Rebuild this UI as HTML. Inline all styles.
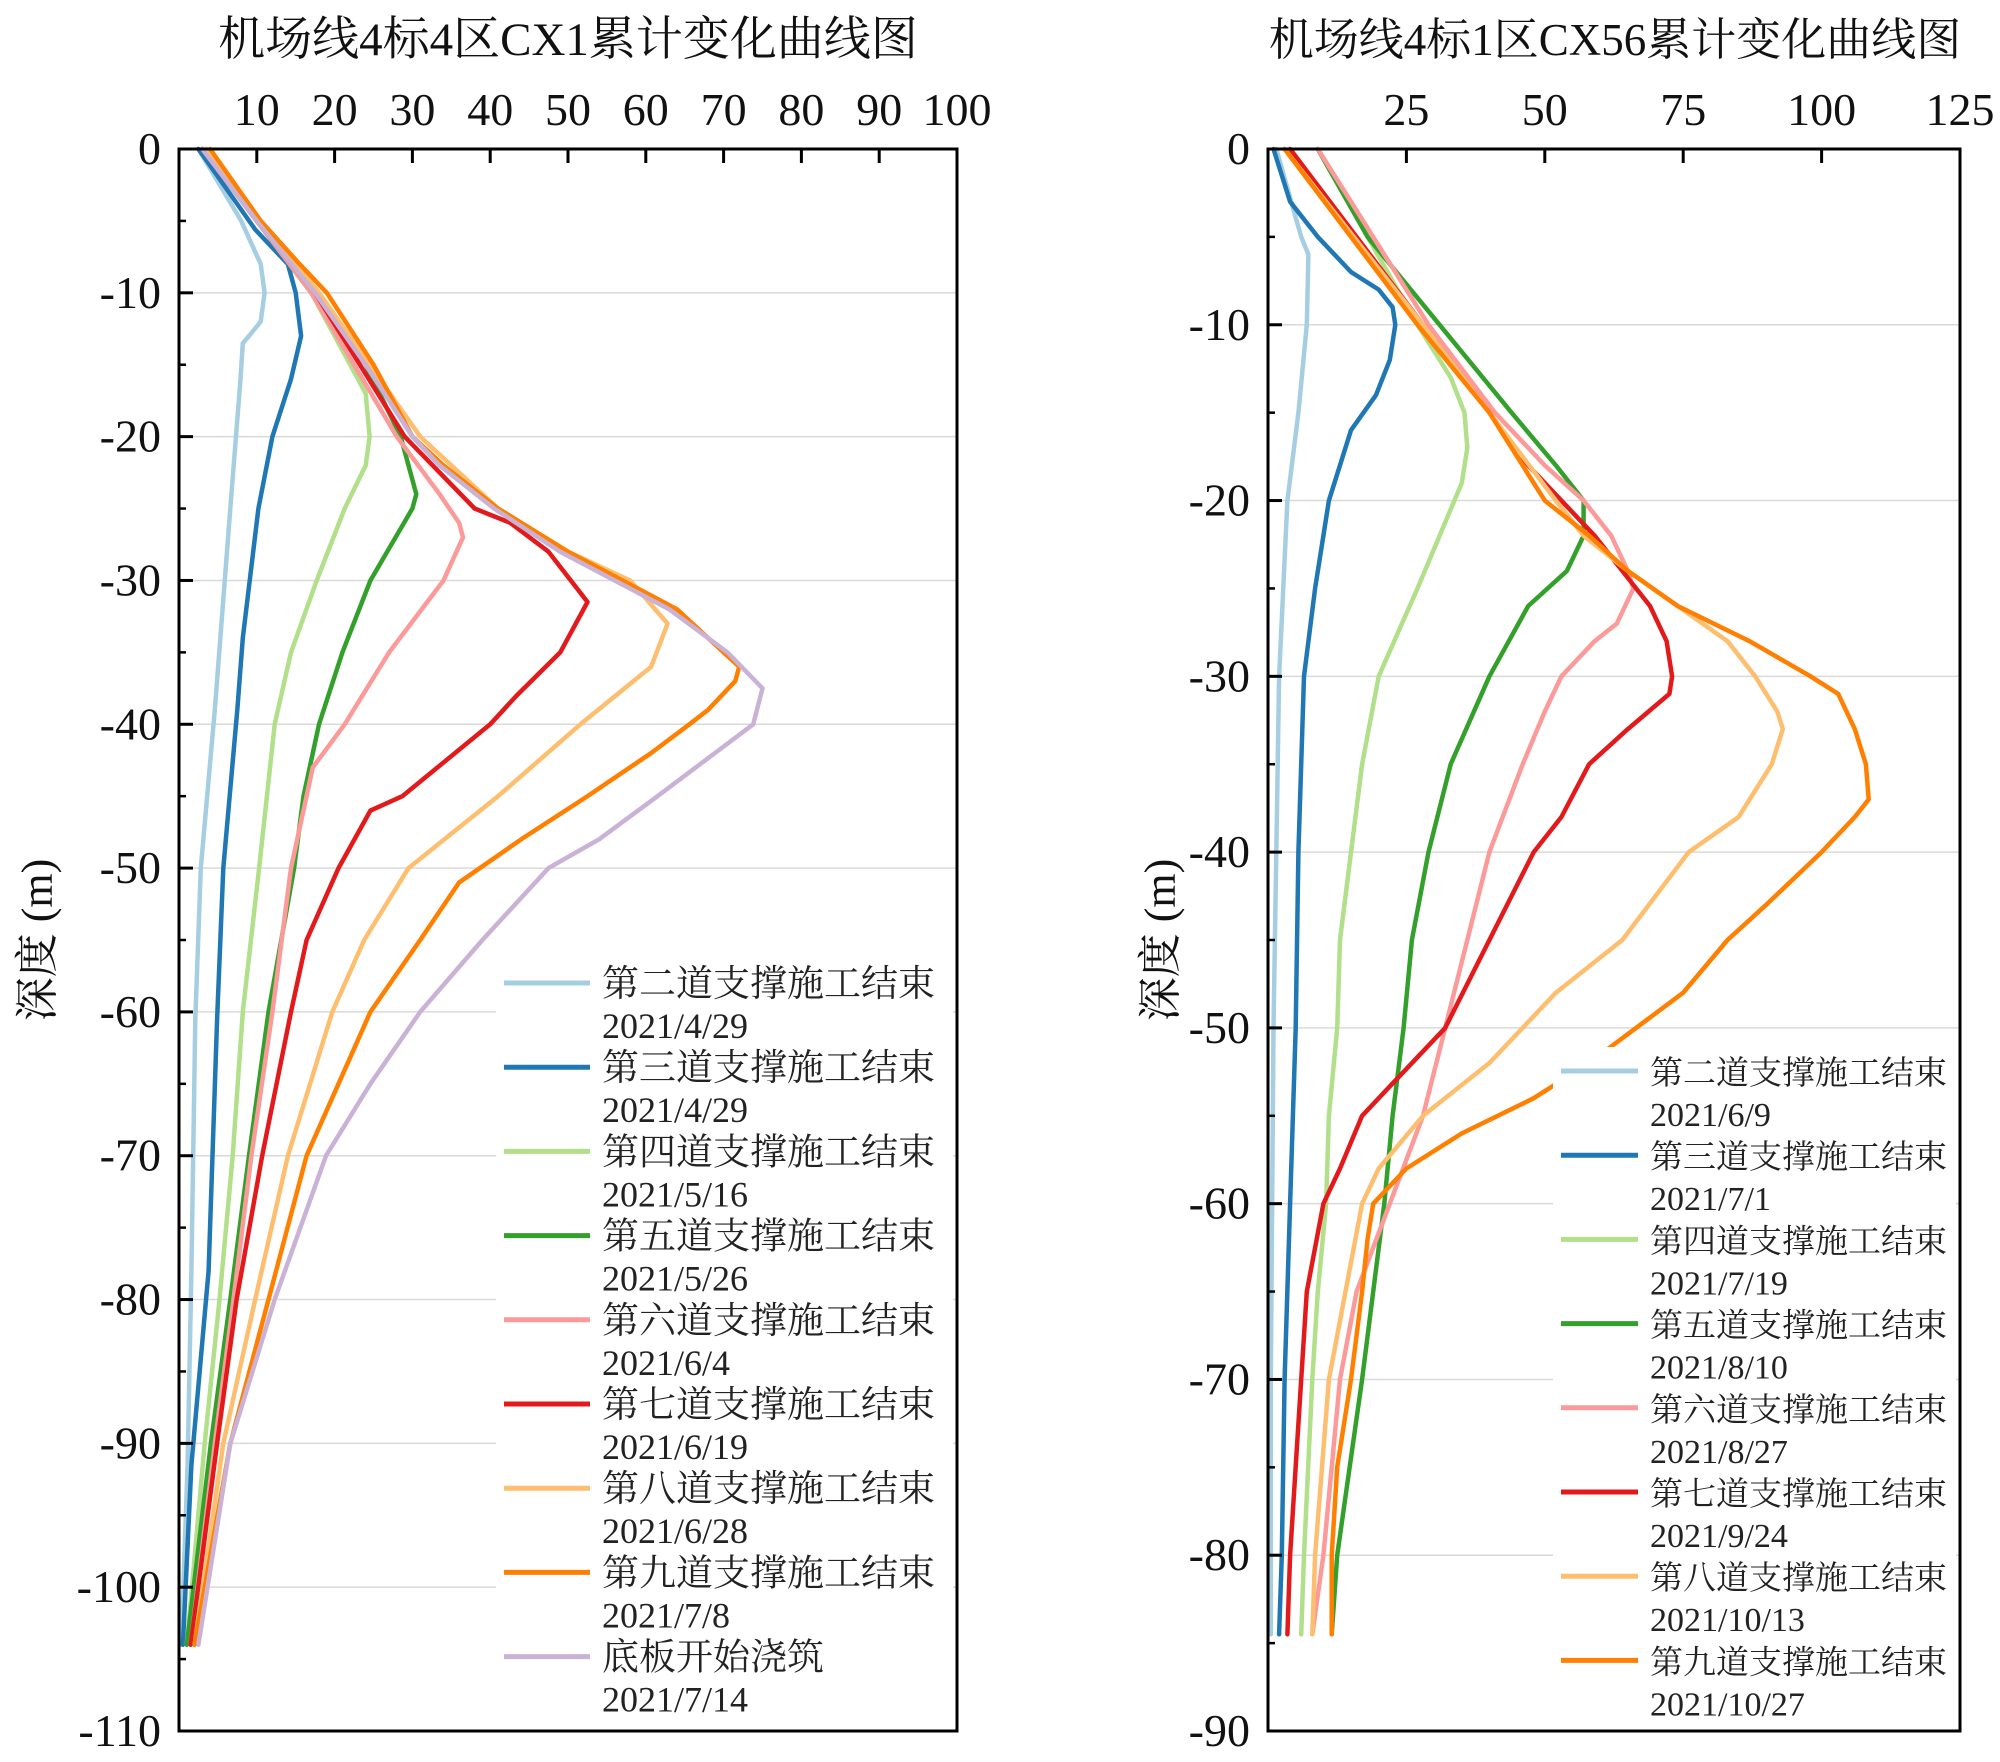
<!DOCTYPE html>
<html><head><meta charset="utf-8">
<style>
html,body{margin:0;padding:0;background:#fff;}
svg{display:block;font-family:"Liberation Serif","Noto Serif CJK SC","Noto Sans CJK SC",serif;}
</style></head>
<body>
<svg id="chart" width="2000" height="1762" viewBox="0 0 2000 1762" xmlns="http://www.w3.org/2000/svg"></svg>
<script>
// ---------- Left chart data (x: mm, depth: m) ----------
const leftNames = ["第二道支撑施工结束","第三道支撑施工结束","第四道支撑施工结束","第五道支撑施工结束","第六道支撑施工结束","第七道支撑施工结束","第八道支撑施工结束","第九道支撑施工结束","底板开始浇筑"];
const leftDates = ["2021/4/29","2021/4/29","2021/5/16","2021/5/26","2021/6/4","2021/6/19","2021/6/28","2021/7/8","2021/7/14"];
const leftColors = ["#a6cee3","#1f78b4","#b2df8a","#33a02c","#fb9a99","#e31a1c","#fdbf6f","#ff7f00","#cab2d6"];
const L1d=[0,-5,-8,-10,-12,-13,-13.5,-16,-25,-39,-50,-60.5,-78,-91.5,-104];
const L1x=[2.5,8,10.5,11,10.5,9,8.2,7.9,6.6,4.6,2.8,2.1,1.6,1.1,0.3];
const L2d=[0,-5.6,-8,-10,-13,-16,-20,-25,-34,-39,-50,-60.5,-78,-91.5,-104];
const L2x=[2.5,9.8,14,15,15.7,14.4,12,10.2,8.2,7.5,5.7,4.9,3.8,1.6,0.5];
const L3d=[0,-5,-10,-15,-17,-20,-22,-25,-30,-35,-40,-50,-60,-70,-80,-90,-104];
const L3x=[3,10,17,22,24,24.5,24,21.3,17.7,14.4,12.3,10.3,8.2,6.9,5.2,3.3,1];
const L4d=[0,-5,-10,-15,-20,-24,-25,-30,-35,-40,-45,-50,-60,-70,-80,-90,-104];
const L4x=[3,10,17,24,28.5,30.5,30,24.6,21,18,16,14.8,11.5,9,6.6,4.1,1];
const L5d=[0,-5,-10,-20,-24,-26,-27,-30,-35,-40,-43,-50,-60,-70,-80,-90,-104];
const L5x=[3,10,17,28,33.5,36,36.5,34,27,21.3,17.2,14.4,12,9.3,7,4.6,1.5];
const L6d=[0,-5,-10,-20,-25,-26,-28,-31.5,-35,-38,-40,-45,-46,-50,-55,-60,-70,-80,-90,-104];
const L6x=[3,10,17.5,29,38,42.6,47.5,52.5,49,43.4,40,28.7,24.6,20.5,16.4,14.4,10.7,7.4,4.9,1.5];
const L7d=[0,-5,-10,-20,-25,-28,-30,-33,-36,-40,-45,-50,-55,-60,-70,-80,-90,-104];
const L7x=[3.5,10.5,18,31,41,50,58,62.8,60.7,51.6,41,29.5,23.8,19.7,14,9.8,5.7,2];
const L8d=[0,-5,-8,-10,-15,-20,-22,-25,-28,-30,-32,-35,-36,-37,-39,-40,-42,-45,-48,-51,-55,-60,-65,-70,-80,-90,-104];
const L8x=[4,10.5,15.5,19,25,30,34,41,50,57,64,70,72,71.5,68,65.6,60.7,52.5,44,36,31,24.6,20.5,16.4,11.5,6.6,2];
const L9d=[0,-5,-10,-15,-20,-22,-25,-28,-30,-32,-35,-37.5,-40,-42,-45,-48,-50,-55,-60,-65,-70,-80,-90,-104];
const L9x=[3,10,17.5,24,30,33.5,40.5,49,56,63,70.5,75,73.8,68.9,61.5,54,47.5,39,31,24.6,18.9,12.3,6.6,2.5];
const leftDepths=[L1d,L2d,L3d,L4d,L5d,L6d,L7d,L8d,L9d];
const leftValues=[L1x,L2x,L3x,L4x,L5x,L6x,L7x,L8x,L9x];
const leftXTicks=[10,20,30,40,50,60,70,80,90,100];
const leftYTicks=[0,-10,-20,-30,-40,-50,-60,-70,-80,-90,-100,-110];

// ---------- Right chart data ----------
const rightNames = ["第二道支撑施工结束","第三道支撑施工结束","第四道支撑施工结束","第五道支撑施工结束","第六道支撑施工结束","第七道支撑施工结束","第八道支撑施工结束","第九道支撑施工结束"];
const rightDates = ["2021/6/9","2021/7/1","2021/7/19","2021/8/10","2021/8/27","2021/9/24","2021/10/13","2021/10/27"];
const rightColors = ["#a6cee3","#1f78b4","#b2df8a","#33a02c","#fb9a99","#e31a1c","#fdbf6f","#ff7f00"];
const R1d=[0,-5,-6,-10,-15,-20,-30,-50,-70,-84.5];
const R1x=[1.5,6,7.3,7,5.5,3.5,2,1,0.5,0.5];
const R2d=[0,-3,-5,-7,-8,-9,-10,-12,-14,-16,-20,-25,-30,-40,-50,-60,-70,-80,-84.5];
const R2x=[1,4,9,15,20,22.5,23,22,19.5,15,11,8.5,6.5,5.5,5,4,3,2.5,2];
const R3d=[0,-5,-10,-13,-15,-17,-19,-22,-25,-30,-35,-40,-45,-50,-55,-60,-65,-70,-80,-84.5];
const R3x=[9,18,27,33,35.5,36,35,31,27,20,17,15,13,12.5,11,10.5,9,8,6.5,6];
const R4d=[0,-5,-10,-15,-18,-20,-22,-24,-26,-30,-35,-40,-45,-50,-55,-60,-65,-70,-80,-84.5];
const R4x=[9,18,31,44,52,57,57,54,47,40,33,29,26,24.5,22.5,21,19,17,12.5,11.5];
const R5d=[0,-10,-15,-18,-20,-22,-24,-25,-27,-28,-30,-32,-35,-40,-45,-50,-55,-60,-65,-70,-80,-84.5];
const R5x=[9,29,41,50,57,62,65,66,63,59,53,50,46,40,36,32,28,22,16,13,10,8];
const R6d=[0,-10,-15,-18,-20,-22,-24,-26,-28,-30,-31,-33,-35,-38,-40,-45,-50,-53,-55,-58,-60,-65,-70,-80,-84.5];
const R6x=[4,28,40,47,53,59,64,69,72,73,72.5,65,58,53,48,40,32,23,17,13,10,7,6,4,3.5];
const R7d=[0,-10,-15,-20,-22,-24,-26,-28,-30,-32,-33,-35,-38,-40,-45,-48,-52,-55,-58,-60,-65,-70,-80,-84.5];
const R7x=[3,28,40,52,57,65,74,83,88,92,93,91,85,76,64,52,40,28,20,17,14,11,8.5,8];
const R8d=[0,-10,-15,-20,-22,-24,-26,-28,-30,-31,-33,-35,-37,-38,-40,-43,-45,-48,-52,-54,-56,-58,-60,-62,-65,-70,-75,-80,-84.5];
const R8x=[3,27,40,50,58,65,74,87,98,103,106,108,108.5,106,100,90,83,75,58,48,35,25,19,18,17,15,12.5,11.5,11.5];
const rightDepths=[R1d,R2d,R3d,R4d,R5d,R6d,R7d,R8d];
const rightValues=[R1x,R2x,R3x,R4x,R5x,R6x,R7x,R8x];
const rightXTicks=[25,50,75,100,125];
const rightYTicks=[0,-10,-20,-30,-40,-50,-60,-70,-80,-90];

const NS="http://www.w3.org/2000/svg";
const svg=document.getElementById('chart');
function mk(tag,attrs,parent){const e=document.createElementNS(NS,tag);for(const k in attrs)e.setAttribute(k,attrs[k]);(parent||svg).appendChild(e);return e;}

function drawChart(cfg){
  const g=mk('g',{});
  
  
  const sx=v=>cfg.x0+(v-cfg.xmin)/(cfg.xmax-cfg.xmin)*(cfg.x1-cfg.x0);
  const sy=v=>cfg.y0+(v-cfg.ymax)/(cfg.ymin-cfg.ymax)*(cfg.y1-cfg.y0);
  cfg.yTicks.forEach(t=>{
    if(t===cfg.ymax||t===cfg.ymin)return;
    const l=mk('line',{x1:cfg.x0,x2:cfg.x1,y1:sy(t),y2:sy(t),stroke:'#d9d9d9','stroke-width':1.5},g);
    
    
  });
  cfg.depths.forEach((d,i)=>{
    const pts=d.map((dv,j)=>sx(cfg.values[i][j]).toFixed(1)+','+sy(dv).toFixed(1)).join(' ');
    const p=mk('polyline',{points:pts,fill:'none',stroke:cfg.colors[i],'stroke-width':4.5,'stroke-linejoin':'round','stroke-linecap':'round'},g);
    
    
  });
  const lg=mk('g',{},g);
  
  
  mk('rect',{x:cfg.legX-8,y:cfg.legY-24,width:cfg.x1-cfg.legX+4,height:cfg.names.length*cfg.legStep+12,fill:'#fff'},lg);
  cfg.names.forEach((n,i)=>{
    const yy=cfg.legY+i*cfg.legStep;
    const e=mk('g',{},lg);
    
    
    mk('line',{x1:cfg.legX,x2:cfg.legX+cfg.legLine,y1:yy,y2:yy,stroke:cfg.colors[i],'stroke-width':5},e);
    const t1=mk('text',{x:cfg.legX+cfg.legLine+12,y:yy+13,'font-size':cfg.legFont,fill:'#222'},e);t1.textContent=n;
    const t2=mk('text',{x:cfg.legX+cfg.legLine+12,y:yy+55,'font-size':cfg.dateFont,fill:'#222'},e);t2.textContent=cfg.dates[i];
  });
  const f=mk('rect',{x:cfg.x0,y:cfg.y0,width:cfg.x1-cfg.x0,height:cfg.y1-cfg.y0,fill:'none',stroke:'#000','stroke-width':3},g);
  
  
  cfg.xTicks.forEach(t=>{
    const x=sx(t);
    if(t!==cfg.xmax)mk('line',{x1:x,x2:x,y1:cfg.y0,y2:cfg.y0+14,stroke:'#000','stroke-width':3},g);
    const tx=mk('text',{x:x,y:cfg.y0-24,'font-size':46,'text-anchor':'middle',fill:'#111'},g);
    
    
    tx.textContent=t;
  });
  cfg.yTicks.forEach((t,k)=>{
    const y=sy(t);
    mk('line',{x1:cfg.x0,x2:cfg.x0+14,y1:y,y2:y,stroke:'#000','stroke-width':3},g);
    if(k<cfg.yTicks.length-1){const ym=sy(t-5);mk('line',{x1:cfg.x0,x2:cfg.x0+7,y1:ym,y2:ym,stroke:'#000','stroke-width':2.5},g);}
    const ty=mk('text',{x:cfg.x0-18,y:y+15,'font-size':46,'text-anchor':'end',fill:'#111'},g);
    
    
    ty.textContent=t;
  });
  const title=mk('text',{x:cfg.titleX,y:55,'font-size':cfg.titleFont,'text-anchor':'middle',fill:'#111'},g);
  
  
  title.textContent=cfg.title;
  const yl=mk('text',{x:0,y:0,'font-size':44,'text-anchor':'middle',fill:'#111',transform:'translate('+cfg.ylabX+','+(cfg.y0+cfg.y1)/2+') rotate(-90)'},g);
  
  
  yl.textContent='深度 (m)';
}

drawChart({prefix:'left',x0:179,x1:957,y0:149,y1:1731,xmin:0,xmax:100,ymin:-110,ymax:0,
  depths:leftDepths,values:leftValues,colors:leftColors,names:leftNames,dates:leftDates,
  xTicks:leftXTicks,yTicks:leftYTicks,legX:504,legY:983,legStep:84.2,legLine:86,legFont:37,dateFont:36,
  title:'机场线4标4区CX1累计变化曲线图',titleX:568,titleFont:47,ylabX:52});
drawChart({prefix:'right',x0:1268,x1:1960,y0:149,y1:1731,xmin:0,xmax:125,ymin:-90,ymax:0,
  depths:rightDepths,values:rightValues,colors:rightColors,names:rightNames,dates:rightDates,
  xTicks:rightXTicks,yTicks:rightYTicks,legX:1561,legY:1071,legStep:84.2,legLine:77,legFont:33,dateFont:34,
  title:'机场线4标1区CX56累计变化曲线图',titleX:1615,titleFont:45,ylabX:1175});
</script>
</body></html>
